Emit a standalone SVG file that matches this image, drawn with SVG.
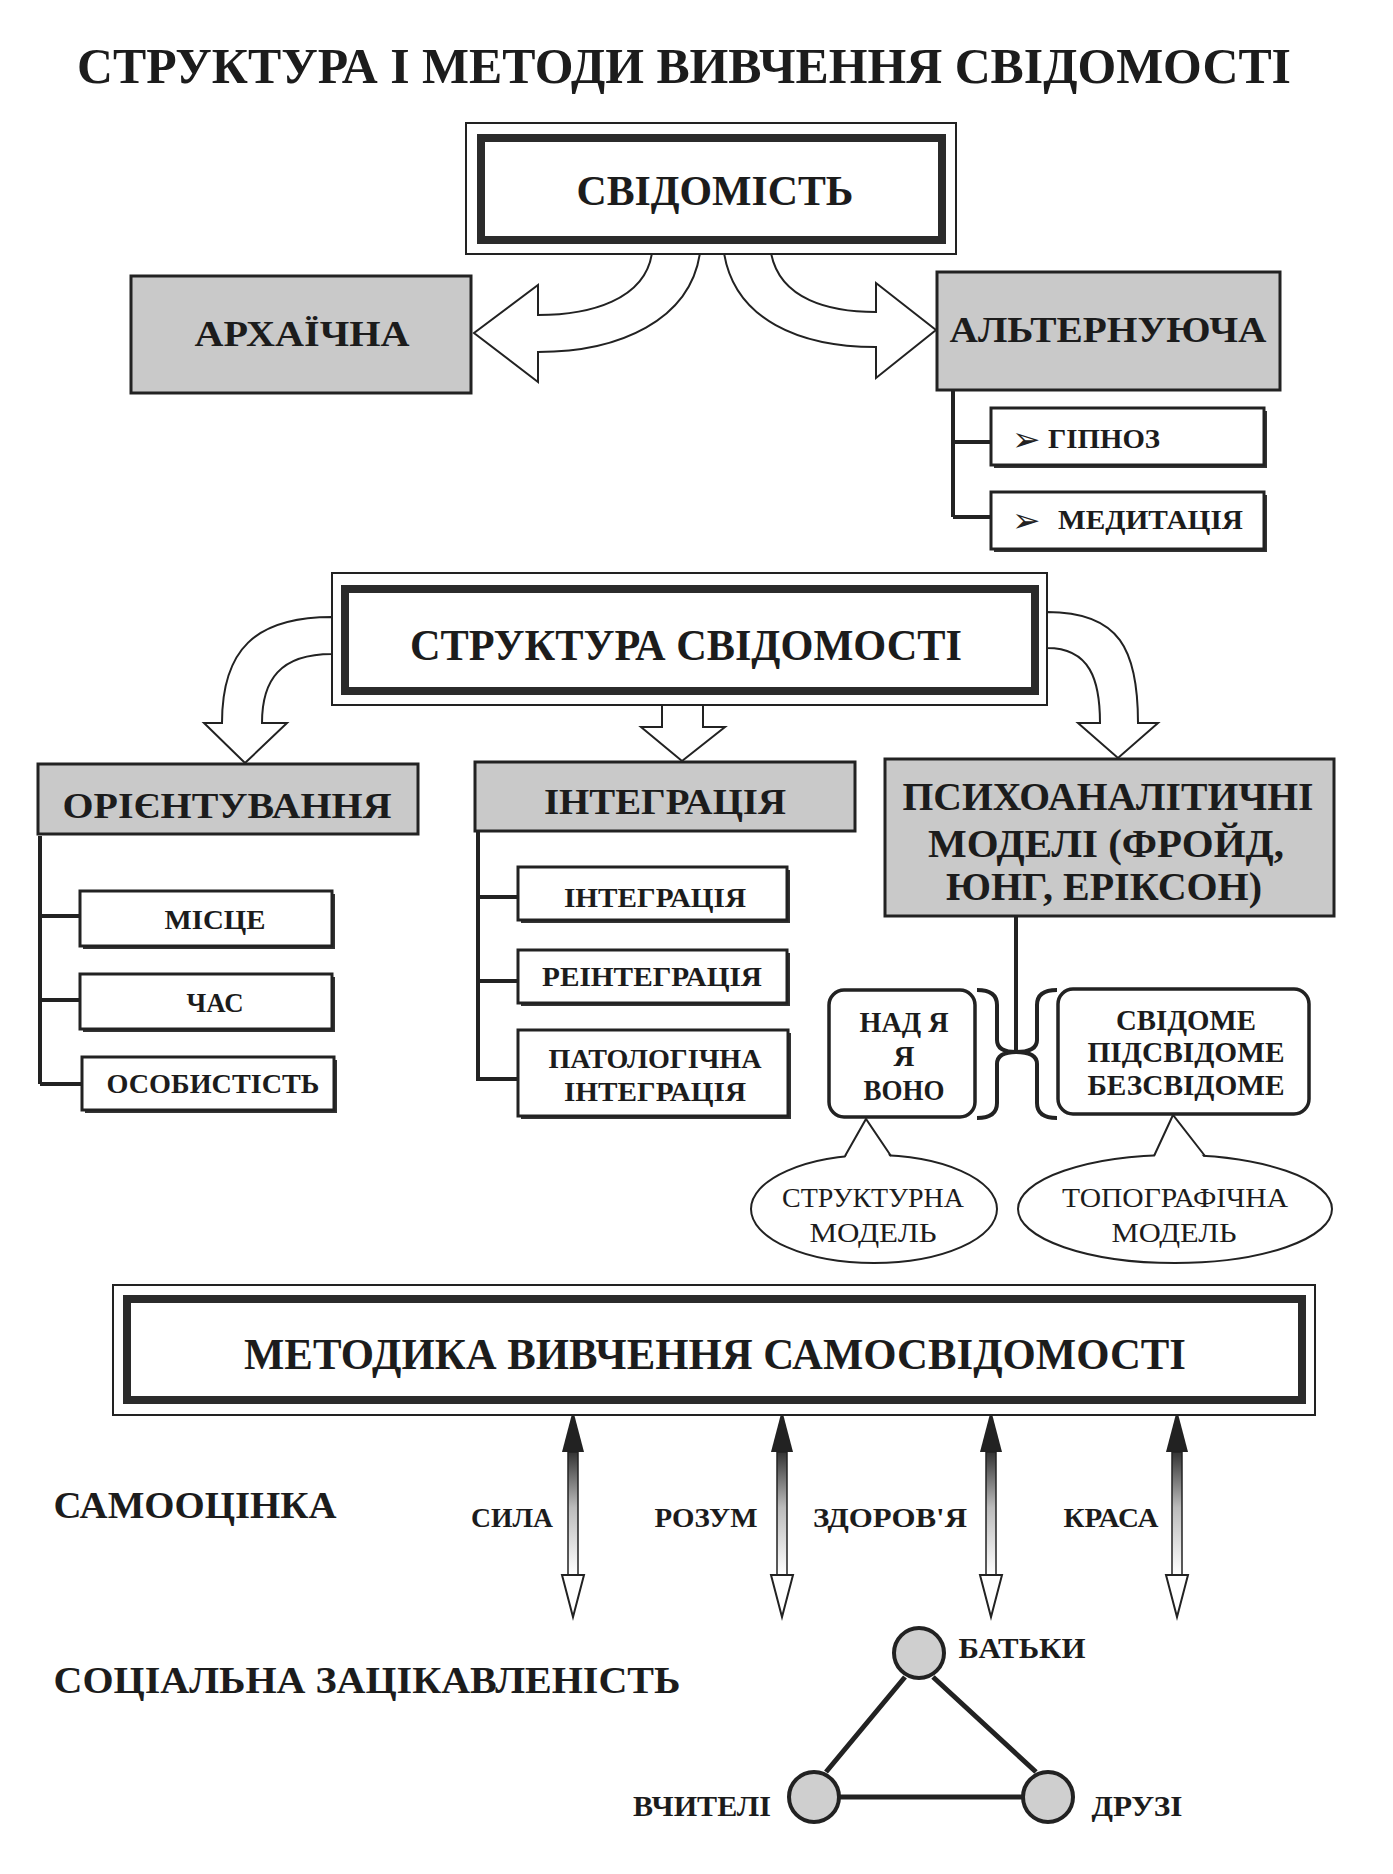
<svg xmlns="http://www.w3.org/2000/svg" width="1393" height="1874" viewBox="0 0 1393 1874">
<style>
.t{font-family:"Liberation Serif","Times New Roman",serif;font-weight:bold;fill:#1c1c1c;text-anchor:middle}
.s{text-anchor:start}
.r{font-weight:normal}
.mk{font-family:"DejaVu Sans",sans-serif;font-size:34px;fill:#222}
.thin{fill:#fff;stroke:#222;stroke-width:2}
.thick{fill:#fff;stroke:#2b2b2b;stroke-width:8}
.gray{fill:#c9c9c9;stroke:#222;stroke-width:3}
.box{fill:#fff;stroke:#222;stroke-width:3}
.sh{fill:#333}
.ln{stroke:#222;stroke-width:4;fill:none}
.arr{fill:#fff;stroke:#222;stroke-width:2;stroke-linejoin:miter}
.rr{fill:#fff;stroke:#222;stroke-width:3.5}
.el{fill:#fff;stroke:#222;stroke-width:2}
.cir{fill:#cfcfcf;stroke:#222;stroke-width:4}
.dk{fill:#222}
</style>
<defs>
<linearGradient id="shaft" x1="0" y1="0" x2="0" y2="1">
<stop offset="0" stop-color="#333"/>
<stop offset="0.45" stop-color="#bbb"/>
<stop offset="1" stop-color="#fff"/>
</linearGradient>
</defs>
<rect width="1393" height="1874" fill="#fff"/>

<text class="t" x="684" y="83" font-size="50" textLength="1214" lengthAdjust="spacingAndGlyphs">СТРУКТУРА І МЕТОДИ ВИВЧЕННЯ СВІДОМОСТІ</text>

<g id="connectors">
<path class="arr" d="M652,253 C645,300 590,315 538,315 L538,285 L474,333 L538,382 L538,352 C620,352 690,320 700,253 Z"/>
<path class="arr" d="M771,253 C780,300 830,312 876,312 L876,283 L936,330 L876,378 L876,347 C800,347 735,320 724,253 Z"/>
<path class="ln" d="M953,390 L953,517 M953,442 L991,442 M953,517 L991,517"/>
<path class="arr" d="M332,617 C255,617 222,650 222,723 L204,723 L245,763 L287,723 L262,723 C262,680 280,654 332,654 Z"/>
<path class="arr" d="M662,705 L662,727 L641,727 L682,761 L725,727 L703,727 L703,705 Z"/>
<path class="arr" d="M1047,612 C1120,612 1138,650 1138,723 L1158,723 L1118,758 L1078,723 L1100,723 C1100,680 1090,648 1047,648 Z"/>
<path class="ln" d="M40,836 L40,1084 M40,916 L80,916 M40,1000 L80,1000 M40,1084 L82,1084"/>
<path class="ln" d="M478,832 L478,1081 M478,897 L518,897 M478,981 L518,981 M478,1079 L518,1079"/>
<path class="ln" d="M1016,916 L1016,1052"/>
<path class="ln" d="M977,990 Q997,990 997,1005 L997,1040 Q997,1052 1016,1052 Q997,1052 997,1064 L997,1103 Q997,1118 977,1118"/>
<path class="ln" d="M1057,990 Q1037,990 1037,1005 L1037,1040 Q1037,1052 1016,1052 Q1037,1052 1037,1064 L1037,1103 Q1037,1118 1057,1118"/>
<g id="dbl-arrows">
<polygon class="dk" points="573,1410 562,1452 584,1452"/>
<rect x="568" y="1452" width="10" height="123" fill="url(#shaft)" stroke="#222" stroke-width="1.5"/>
<polygon class="arr" points="562,1575 584,1575 573,1617"/>
<polygon class="dk" points="782,1410 771,1452 793,1452"/>
<rect x="777" y="1452" width="10" height="123" fill="url(#shaft)" stroke="#222" stroke-width="1.5"/>
<polygon class="arr" points="771,1575 793,1575 782,1617"/>
<polygon class="dk" points="991,1410 980,1452 1002,1452"/>
<rect x="986" y="1452" width="10" height="123" fill="url(#shaft)" stroke="#222" stroke-width="1.5"/>
<polygon class="arr" points="980,1575 1002,1575 991,1617"/>
<polygon class="dk" points="1177,1410 1166,1452 1188,1452"/>
<rect x="1172" y="1452" width="10" height="123" fill="url(#shaft)" stroke="#222" stroke-width="1.5"/>
<polygon class="arr" points="1166,1575 1188,1575 1177,1617"/>
</g>
<path d="M905,1677 L826,1772 M933,1677 L1036,1772 M840,1797 L1022,1797" stroke="#222" stroke-width="5" fill="none"/>
</g>

<g id="svidomist">
<rect class="thin" x="466" y="123" width="490" height="131"/>
<rect class="thick" x="481" y="138" width="461" height="102"/>
<text class="t" x="715" y="205" font-size="42" textLength="277" lengthAdjust="spacingAndGlyphs">СВІДОМІСТЬ</text>
</g>

<g id="arkhaichna">
<rect class="gray" x="131" y="276" width="340" height="117"/>
<text class="t" x="302" y="346" font-size="36" textLength="215" lengthAdjust="spacingAndGlyphs">АРХАЇЧНА</text>
</g>

<g id="alternuyucha">
<rect class="gray" x="937" y="272" width="343" height="118"/>
<text class="t" x="1108" y="342" font-size="36" textLength="317" lengthAdjust="spacingAndGlyphs">АЛЬТЕРНУЮЧА</text>
</g>

<g id="hipnoz">
<rect class="sh" x="994" y="411" width="273" height="57"/>
<rect class="box" x="991" y="408" width="273" height="57"/>
<text class="mk" x="1012" y="451">➢</text>
<text class="t s" x="1048" y="448" font-size="28" textLength="112" lengthAdjust="spacingAndGlyphs">ГІПНОЗ</text>
</g>

<g id="medytatsiya">
<rect class="sh" x="994" y="495" width="273" height="57"/>
<rect class="box" x="991" y="492" width="273" height="57"/>
<text class="mk" x="1012" y="532">➢</text>
<text class="t s" x="1058" y="529" font-size="28" textLength="185" lengthAdjust="spacingAndGlyphs">МЕДИТАЦІЯ</text>
</g>

<g id="struktura">
<rect class="thin" x="332" y="573" width="715" height="132"/>
<rect class="thick" x="345" y="589" width="690" height="102"/>
<text class="t" x="686" y="660" font-size="44" textLength="552" lengthAdjust="spacingAndGlyphs">СТРУКТУРА СВІДОМОСТІ</text>
</g>

<g id="oriientuvannya">
<rect class="gray" x="38" y="764" width="380" height="70"/>
<text class="t" x="227" y="818" font-size="36" textLength="329" lengthAdjust="spacingAndGlyphs">ОРІЄНТУВАННЯ</text>
</g>

<g id="intehratsiya-head">
<rect class="gray" x="475" y="762" width="380" height="69"/>
<text class="t" x="665" y="814" font-size="36" textLength="242" lengthAdjust="spacingAndGlyphs">ІНТЕГРАЦІЯ</text>
</g>

<g id="psykho">
<rect class="gray" x="885" y="759" width="449" height="157"/>
<text class="t" x="1108" y="810" font-size="40" textLength="411" lengthAdjust="spacingAndGlyphs">ПСИХОАНАЛІТИЧНІ</text>
<text class="t" x="1106" y="857" font-size="40" textLength="356" lengthAdjust="spacingAndGlyphs">МОДЕЛІ (ФРОЙД,</text>
<text class="t" x="1104" y="900" font-size="40" textLength="316" lengthAdjust="spacingAndGlyphs">ЮНГ, ЕРІКСОН)</text>
</g>

<g id="mistse">
<rect class="sh" x="83" y="894" width="252" height="55"/>
<rect class="box" x="80" y="891" width="252" height="55"/>
<text class="t" x="215" y="929" font-size="27" textLength="101" lengthAdjust="spacingAndGlyphs">МІСЦЕ</text>
</g>
<g id="chas">
<rect class="sh" x="83" y="977" width="252" height="55"/>
<rect class="box" x="80" y="974" width="252" height="55"/>
<text class="t" x="215" y="1012" font-size="27" textLength="57" lengthAdjust="spacingAndGlyphs">ЧАС</text>
</g>
<g id="osobystist">
<rect class="sh" x="85" y="1060" width="252" height="53"/>
<rect class="box" x="82" y="1057" width="252" height="53"/>
<text class="t" x="213" y="1093" font-size="27" textLength="213" lengthAdjust="spacingAndGlyphs">ОСОБИСТІСТЬ</text>
</g>

<g id="intehratsiya">
<rect class="sh" x="521" y="870" width="269" height="53"/>
<rect class="box" x="518" y="867" width="269" height="53"/>
<text class="t" x="655" y="907" font-size="27" textLength="182" lengthAdjust="spacingAndGlyphs">ІНТЕГРАЦІЯ</text>
</g>
<g id="reintehratsiya">
<rect class="sh" x="521" y="953" width="269" height="53"/>
<rect class="box" x="518" y="950" width="269" height="53"/>
<text class="t" x="652" y="986" font-size="27" textLength="220" lengthAdjust="spacingAndGlyphs">РЕІНТЕГРАЦІЯ</text>
</g>
<g id="patolohichna">
<rect class="sh" x="521" y="1033" width="270" height="86"/>
<rect class="box" x="518" y="1030" width="270" height="86"/>
<text class="t" x="655" y="1068" font-size="27" textLength="213" lengthAdjust="spacingAndGlyphs">ПАТОЛОГІЧНА</text>
<text class="t" x="655" y="1101" font-size="27" textLength="182" lengthAdjust="spacingAndGlyphs">ІНТЕГРАЦІЯ</text>
</g>

<g id="nad-ya">
<rect class="rr" x="829" y="990" width="146" height="127" rx="15"/>
<text class="t" x="904" y="1032" font-size="29" textLength="89" lengthAdjust="spacingAndGlyphs">НАД Я</text>
<text class="t" x="904" y="1066" font-size="29">Я</text>
<text class="t" x="904" y="1100" font-size="29" textLength="81" lengthAdjust="spacingAndGlyphs">ВОНО</text>
</g>

<g id="svidome">
<rect class="rr" x="1058" y="989" width="251" height="125" rx="15"/>
<text class="t" x="1186" y="1030" font-size="29" textLength="140" lengthAdjust="spacingAndGlyphs">СВІДОМЕ</text>
<text class="t" x="1186" y="1062" font-size="29" textLength="197" lengthAdjust="spacingAndGlyphs">ПІДСВІДОМЕ</text>
<text class="t" x="1186" y="1095" font-size="29" textLength="197" lengthAdjust="spacingAndGlyphs">БЕЗСВІДОМЕ</text>
</g>

<g id="strukturna">
<ellipse class="el" cx="874" cy="1209" rx="123" ry="54"/>
<polygon points="843,1162 866,1119 893,1162" fill="#fff"/>
<polyline points="845,1156 866,1119 891,1156" fill="none" stroke="#222" stroke-width="2"/>
<text class="t r" x="873" y="1207" font-size="27" textLength="182" lengthAdjust="spacingAndGlyphs">СТРУКТУРНА</text>
<text class="t r" x="873" y="1242" font-size="27" textLength="127" lengthAdjust="spacingAndGlyphs">МОДЕЛЬ</text>
</g>

<g id="topohrafichna">
<ellipse class="el" cx="1175" cy="1209" rx="157" ry="54"/>
<polygon points="1152,1162 1173,1115 1207,1162" fill="#fff"/>
<polyline points="1154,1156 1173,1115 1205,1156" fill="none" stroke="#222" stroke-width="2"/>
<text class="t r" x="1175" y="1207" font-size="27" textLength="226" lengthAdjust="spacingAndGlyphs">ТОПОГРАФІЧНА</text>
<text class="t r" x="1174" y="1242" font-size="27" textLength="125" lengthAdjust="spacingAndGlyphs">МОДЕЛЬ</text>
</g>

<g id="metodyka">
<rect class="thin" x="113" y="1285" width="1202" height="130"/>
<rect class="thick" x="127" y="1299" width="1175" height="101"/>
<text class="t" x="715" y="1369" font-size="44" textLength="942" lengthAdjust="spacingAndGlyphs">МЕТОДИКА ВИВЧЕННЯ САМОСВІДОМОСТІ</text>
</g>

<g id="labels">
<text class="t" x="195" y="1518" font-size="37" textLength="283" lengthAdjust="spacingAndGlyphs">САМООЦІНКА</text>
<text class="t" x="512" y="1527" font-size="27" textLength="82" lengthAdjust="spacingAndGlyphs">СИЛА</text>
<text class="t" x="706" y="1527" font-size="27" textLength="103" lengthAdjust="spacingAndGlyphs">РОЗУМ</text>
<text class="t" x="890" y="1527" font-size="27" textLength="154" lengthAdjust="spacingAndGlyphs">ЗДОРОВ'Я</text>
<text class="t" x="1111" y="1527" font-size="27" textLength="95" lengthAdjust="spacingAndGlyphs">КРАСА</text>
<text class="t" x="367" y="1693" font-size="37" textLength="627" lengthAdjust="spacingAndGlyphs">СОЦІАЛЬНА ЗАЦІКАВЛЕНІСТЬ</text>
</g>

<g id="batky">
<circle class="cir" cx="919" cy="1653" r="25"/>
<text class="t" x="1022" y="1658" font-size="29" textLength="127" lengthAdjust="spacingAndGlyphs">БАТЬКИ</text>
</g>
<g id="vchyteli">
<circle class="cir" cx="814" cy="1797" r="25"/>
<text class="t" x="702" y="1816" font-size="29" textLength="138" lengthAdjust="spacingAndGlyphs">ВЧИТЕЛІ</text>
</g>
<g id="druzi">
<circle class="cir" cx="1048" cy="1797" r="25"/>
<text class="t" x="1137" y="1816" font-size="29" textLength="91" lengthAdjust="spacingAndGlyphs">ДРУЗІ</text>
</g>
</svg>
